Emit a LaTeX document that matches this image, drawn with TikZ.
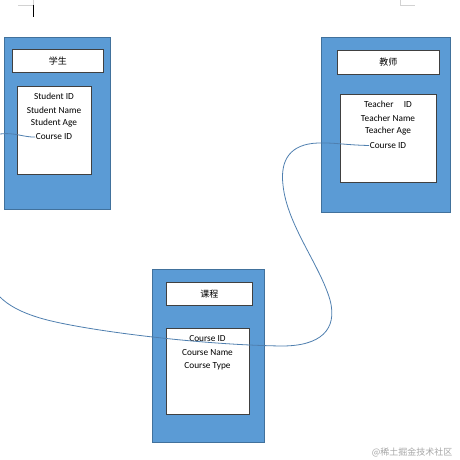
\documentclass[tikz,border=0pt]{standalone}
\usepackage{fontspec}
\setmainfont{Carlito}
\newfontfamily\cjk{Noto Sans CJK SC}
\definecolor{boxblue}{HTML}{5B9BD5}
\definecolor{boxedge}{HTML}{41719C}
\definecolor{linkblue}{HTML}{4F7FAF}
\definecolor{inkgray}{HTML}{404040}
\begin{document}
\begin{tikzpicture}[x=1pt,y=-1pt,
  outerbox/.style={draw=boxedge,fill=boxblue,line width=0.8pt,anchor=north west,inner sep=0pt},
  titlebox/.style={draw=inkgray,fill=white,line width=0.8pt,anchor=north west,inner sep=0pt},
  innerbox/.style={draw=inkgray,fill=white,line width=0.8pt,anchor=north west,inner sep=0pt},
  field/.style={font=\fontsize{9.3}{11}\selectfont,text=black,inner sep=0.5pt},
  ttl/.style={font=\cjk\fontsize{9}{11}\selectfont,text=black},
  link/.style={draw=linkblue,line width=0.8pt}]
\useasboundingbox (0,0) rectangle (460,460);
% word-processor artefacts
\draw[gray!35,line width=0.5pt] (18,5) -- (33,5) -- (33,0);
\draw[gray!35,line width=0.5pt] (400,0) -- (400,5) -- (415,5);
\draw[black,line width=0.9pt] (33,5) -- (33,17);
% Student
\node[outerbox,minimum width=106pt,minimum height=172pt] (sOut) at (4,37) {};
\node[titlebox,minimum width=91pt,minimum height=23pt] (sTitle) at (12,49) {};
\node[ttl] (sTitleTxt) at (sTitle.center) {学生};
\node[innerbox,minimum width=74pt,minimum height=88pt] (sIn) at (17,86) {};
\node[field] (s1) at (54,96.5) {Student ID};
\node[field] (s2) at (54,110) {Student Name};
\node[field] (s3) at (54,123.5) {Student Age};
\node[field] (s4) at (54,137) {Course ID};
% Teacher
\node[outerbox,minimum width=129pt,minimum height=175pt] (tOut) at (321,37) {};
\node[titlebox,minimum width=102pt,minimum height=24pt] (tTitle) at (337,50) {};
\node[ttl] (tTitleTxt) at (tTitle.center) {教师};
\node[innerbox,minimum width=96pt,minimum height=88pt] (tIn) at (340,94) {};
\node[field] (t1) at (388,104) {Teacher\hspace{1.1em}ID};
\node[field] (t2) at (388,118) {Teacher Name};
\node[field] (t3) at (388,131.5) {Teacher Age};
\node[field] (t4) at (388,145.5) {Course ID};
% Course
\node[outerbox,minimum width=112pt,minimum height=173pt] (cOut) at (152,269) {};
\node[titlebox,minimum width=86pt,minimum height=23pt] (cTitle) at (166,282) {};
\node[ttl] (cTitleTxt) at (cTitle.center) {课程};
\node[innerbox,minimum width=83pt,minimum height=86pt] (cIn) at (166,328) {};
\node[field] (c1) at (207.5,339) {Course ID};
\node[field] (c2) at (207.5,352.5) {Course Name};
\node[field] (c3) at (207.5,366) {Course Type};
% connectors
\coordinate (sFree) at (0,134);
\coordinate (cFree) at (0,297);
\draw[link] (sFree) .. controls (14,132) and (24,137.5) .. (s4.west);
\draw[link] (t4.west) .. controls (345,145) and (335,142.5) .. (318,143)
  .. controls (290,144) and (280,160) .. (283,185)
  .. controls (287,225) and (320,265) .. (330,300)
  .. controls (338,330) and (320,346) .. (282,346)
  .. controls (200,345) and (80,330) .. (40,318)
  .. controls (20,312) and (8,305) .. (cFree);
% watermark
\node[font=\cjk\fontsize{9}{11}\selectfont,text=gray!70,anchor=east] (wm) at (456,452) {@稀土掘金技术社区};
\end{tikzpicture}
\end{document}
